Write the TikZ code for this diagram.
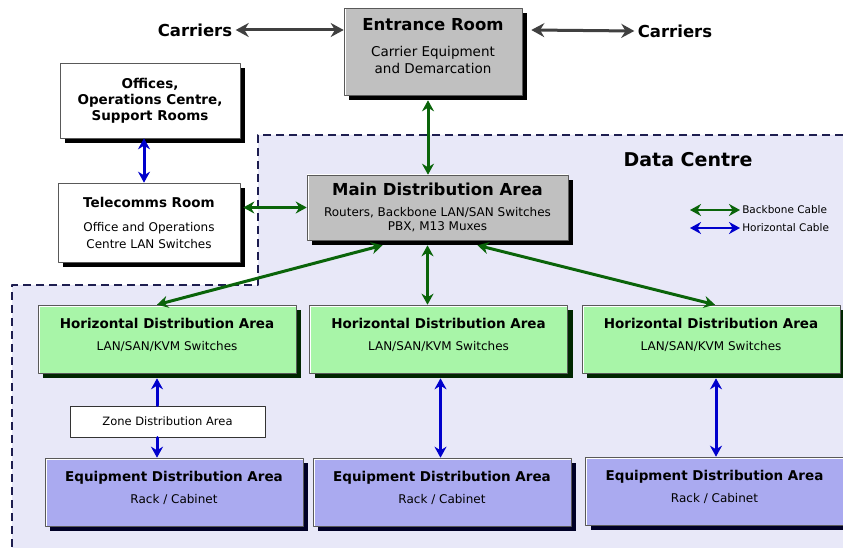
\documentclass[tikz,border=0pt]{standalone}
\usepackage{fontspec}
\setmainfont{DejaVu Sans}
\usetikzlibrary{arrows.meta,shadows}
\definecolor{roomgrey}{HTML}{C0C0C0}
\definecolor{hdagreen}{HTML}{A8F5A8}
\definecolor{edablue}{HTML}{AAAAF0}
\definecolor{dcfill}{HTML}{E8E8F8}
\definecolor{dcedge}{HTML}{1E1E50}
\definecolor{bbgreen}{HTML}{0A640A}
\definecolor{hzblue}{HTML}{0000CC}
\definecolor{carrgrey}{HTML}{404040}
\newcommand\bigtitle{\fontsize{16.5}{19}\selectfont\bfseries}
\newcommand\boxtitle{\fontsize{13.5}{16}\selectfont\bfseries}
\newcommand\boxsub{\fontsize{12}{15}\selectfont}
\newcommand\roomsub{\fontsize{13.5}{17}\selectfont}
\tikzset{
  >={Stealth[length=11pt,width=12pt]},
  bevel/.style={path picture={\draw[white,line width=3pt] (path picture bounding box.south west) -- (path picture bounding box.north west) -- (path picture bounding box.north east);}},
  room/.style={draw=gray!70!black,line width=0.6pt,align=center,inner sep=2pt,bevel,
    drop shadow={shadow xshift=5pt,shadow yshift=-5pt,fill=black,opacity=1}},
  hdabox/.style={room,fill=hdagreen,minimum width=258,minimum height=68,font=\boxsub,text depth=10pt,
    drop shadow={shadow xshift=5pt,shadow yshift=-5pt,fill=green!15!black,opacity=1}},
  edabox/.style={room,fill=edablue,minimum width=258,minimum height=68,font=\boxsub,text depth=9pt,
    drop shadow={shadow xshift=5pt,shadow yshift=-5pt,fill=blue!15!black,opacity=1}},
  backbone/.style={<->,line width=3pt,draw=bbgreen},
  horiz/.style={<->,line width=3pt,draw=hzblue},
  carrier/.style={<->,>={Stealth[length=13pt,width=14pt]},line width=3pt,draw=carrgrey},
  legendtext/.style={font=\fontsize{10.5}{12}\selectfont,inner sep=1pt}
}
\begin{document}
\begin{tikzpicture}[line cap=round,line join=round,x=1pt,y=-1pt]
\fill[white] (0,0) rectangle (843,548);
\useasboundingbox (0,0) rectangle (843,548);
\fill[dcfill] (258,135) -- (843,135) -- (843,548) -- (12,548) -- (12,285) -- (258,285) -- cycle;
\draw[dcedge,line width=1.5pt,line cap=butt,dash pattern=on 8pt off 5pt] (843,135) -- (258,135) -- (258,285) -- (12,285) -- (12,548);
\node[font=\bigtitle] (carl) at (195,30) {Carriers};
\node[font=\bigtitle] (carr) at (675,31) {Carriers};
\node[font=\fontsize{19}{22}\selectfont\bfseries] (dc) at (688,160) {Data Centre};
\node[room,fill=roomgrey,minimum width=178,minimum height=87,font=\roomsub,text depth=11pt] (ent) at (433,51.5) {{\bigtitle Entrance Room}\\[9pt]Carrier Equipment\\and Demarcation};
\node[room,fill=white,minimum width=180,minimum height=75,font=\boxtitle] (off) at (150,100.5) {Offices,\\Operations Centre,\\Support Rooms};
\node[room,fill=white,minimum width=182,minimum height=79,font=\fontsize{12}{17}\selectfont] (tel) at (149,222.5) {{\boxtitle Telecomms Room}\\[7pt]Office and Operations\\Centre LAN Switches};
\node[room,fill=roomgrey,minimum width=261,minimum height=65,font=\fontsize{12}{14}\selectfont] (mda) at (437.5,207.5) {{\bigtitle Main Distribution Area}\\[7pt]Routers, Backbone LAN/SAN Switches\\PBX, M13 Muxes};
\node[hdabox] (hdaa) at (167,339) {{\boxtitle Horizontal Distribution Area}\\[7pt]LAN/SAN/KVM Switches};
\node[hdabox] (hdab) at (438.5,339) {{\boxtitle Horizontal Distribution Area}\\[7pt]LAN/SAN/KVM Switches};
\node[hdabox] (hdac) at (711,339) {{\boxtitle Horizontal Distribution Area}\\[7pt]LAN/SAN/KVM Switches};
\node[draw=black!80,fill=white,line width=1pt,minimum width=195,minimum height=31,font=\fontsize{11.5}{14}\selectfont] (zone) at (167.5,421.5) {Zone Distribution Area};
\node[edabox] (edaa) at (174,492) {{\boxtitle Equipment Distribution Area}\\[7pt]Rack / Cabinet};
\node[edabox] (edab) at (442,492) {{\boxtitle Equipment Distribution Area}\\[7pt]Rack / Cabinet};
\node[edabox] (edac) at (714.5,491) {{\boxtitle Equipment Distribution Area}\\[7pt]Rack / Cabinet};
\draw[carrier] (carl.east) -- (carl.east -| ent.west);
\draw[carrier] ([xshift=9pt]carl.east -| ent.east) -- (carr.west);
\draw[backbone] ([xshift=-5pt,yshift=-5pt]ent.south) -- ([xshift=-5pt]ent.south |- mda.north);
\draw[horiz] ([xshift=-6pt]off.south) -- ([xshift=-6pt]off.south |- tel.north);
\draw[backbone] ([xshift=3pt]tel.east |- mda.west) -- (mda.west);
\draw[backbone] ([xshift=-55pt,yshift=-5pt]mda.south) -- ([xshift=-10pt]hdaa.north);
\draw[backbone] ([xshift=-10pt,yshift=-5pt]mda.south) -- ([xshift=-10pt]mda.south |- hdab.north);
\draw[backbone] ([xshift=40pt,yshift=-5pt]mda.south) -- ([xshift=4pt]hdac.north);
\draw[horiz,->] ([xshift=-10pt]hdaa.south |- zone.north) -- ([xshift=-10pt,yshift=-5pt]hdaa.south);
\draw[horiz,->] ([xshift=-10pt]hdaa.south |- zone.south) -- ([xshift=-10pt]hdaa.south |- edaa.north);
\draw[horiz] ([xshift=2pt,yshift=-5pt]hdab.south) -- ([xshift=2pt]hdab.south |- edab.north);
\draw[horiz] ([xshift=5pt,yshift=-5pt]hdac.south) -- ([xshift=5pt]hdac.south |- edac.north);
\coordinate (bba) at (690,210);
\coordinate (bbb) at (740,210);
\coordinate (hza) at (690,228);
\coordinate (hzb) at (740,228);
\draw[backbone,line width=2.5pt] (bba) -- (bbb) node[right,legendtext] (bbtext) {Backbone Cable};
\draw[horiz,line width=2.5pt] (hza) -- (hzb) node[right,legendtext] (hztext) {Horizontal Cable};
\end{tikzpicture}
\end{document}
